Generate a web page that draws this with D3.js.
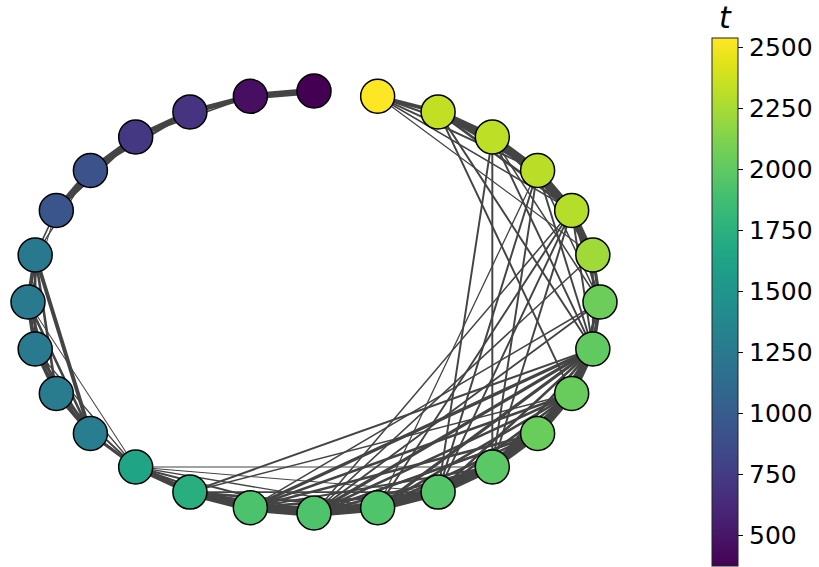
<!DOCTYPE html>
<html>
<head>
<meta charset="utf-8">
<script src="https://cdn.jsdelivr.net/npm/d3@7"></script>
<style>
html,body{margin:0;padding:0;background:#fff;}
svg{display:block;font-family:"DejaVu Sans",sans-serif;}
</style>
</head>
<body>
<svg id="chart" width="819" height="567"></svg>
<script>
// node attribute t, in circular order (counter-clockwise starting at the top)
const nodeT = [373, 450, 700, 720, 920, 940, 1250, 1260, 1260, 1270, 1280, 1640, 1740, 1920, 1930, 1940, 1960, 1980, 2040, 2030, 2010, 2050, 2230, 2300, 2310, 2320, 2340, 2537];
// edges: [source, target, weight]
const edges = [
  [0,1,5],[1,2,4],[1,3,1.2],[2,3,3.5],[2,4,2],[3,4,4],[3,5,2],[4,5,4],[4,6,1],[5,6,1.2],[5,7,0.8],
  [6,7,3],[6,8,2],[6,9,2],[6,10,3],[7,8,3],[7,9,2],[7,10,2],[8,9,3],[8,10,2],[9,10,3],
  [7,11,0.8],[8,11,1],[9,11,1.5],[10,11,2.5],
  [11,12,4],[11,13,1.5],[11,14,1.5],[11,15,1],[11,16,0.8],[11,17,0.8],
  [12,13,6],[12,14,3],[12,15,2],[12,16,1.5],
  [13,14,6],[13,15,3],[13,16,2],[13,17,1.5],
  [14,15,6],[14,16,3],[14,17,2],[14,18,1.5],
  [15,16,6],[15,17,3],[15,18,2],
  [16,17,6],[16,18,3],[16,19,2],
  [17,18,6],[17,19,3],[17,20,2],
  [18,19,6],[18,20,3],[19,20,5],[19,21,2],[20,21,3],[20,22,1.5],[21,22,2.5],
  [20,12,1.5],[20,13,2.5],[20,14,2.5],[20,15,2.5],[20,16,2],
  [19,12,1.2],[19,13,2],[19,14,2],[19,15,2],
  [18,13,2],[18,14,2],[21,13,1.2],[21,14,1.5],[22,14,1.2],
  [27,26,3],[27,25,1.5],[27,24,1.5],[27,23,1.2],[27,22,1],
  [26,25,5],[26,24,3],[26,23,2],[25,24,5],[25,23,3],[24,23,5],[24,22,2],[23,22,4],[23,21,2],
  [26,19,1.5],[26,20,1.5],[25,17,1.5],[25,16,1.5],[25,20,1.5],
  [24,15,1],[24,16,1.5],[24,17,1.5],[24,20,1.5],[23,14,1.2],[23,15,1.5],[23,16,1.5],[23,17,1.5],[23,20,1.5],
  [21,24,1.2],[21,25,1.2]
];
const cbTicks = [500, 750, 1000, 1250, 1500, 1750, 2000, 2250, 2500];
const tMin = 373, tMax = 2537;
const cbLabel = "t";

const svg = d3.select("#chart");
const n = nodeT.length;
// circular layout coordinates in [-1,1]
const layout = nodeT.map((t, i) => {
  const a = Math.PI / 2 + i * 2 * Math.PI / n;
  return {x: Math.cos(a), y: Math.sin(a), t: t};
});
const xs = d3.scaleLinear().domain([-1, 1]).range([28, 600]);
const ys = d3.scaleLinear().domain([1, -1]).range([91, 513]);
const color = d3.scaleSequential(d3.interpolateViridis).domain([tMin, tMax]);
const widthScale = d3.scaleLinear().domain([0, 1]).range([0, 1.3]);

svg.append("g").selectAll("line").data(edges).join("line")
  .attr("x1", d => xs(layout[d[0]].x)).attr("y1", d => ys(layout[d[0]].y))
  .attr("x2", d => xs(layout[d[1]].x)).attr("y2", d => ys(layout[d[1]].y))
  .attr("stroke", "#444").attr("stroke-width", d => widthScale(d[2])).attr("stroke-linecap", "round");

svg.append("g").selectAll("circle").data(layout).join("circle")
  .attr("cx", d => xs(d.x)).attr("cy", d => ys(d.y)).attr("r", 17)
  .attr("fill", d => color(d.t)).attr("stroke", "#000").attr("stroke-width", 1.5);

// colorbar
const cbX = 712, cbW = 26, cbTop = 38, cbBot = 566;
const defs = svg.append("defs");
const grad = defs.append("linearGradient").attr("id", "cbgrad")
  .attr("x1", "0").attr("y1", "1").attr("x2", "0").attr("y2", "0");
d3.range(0, 1.0001, 0.05).forEach(f => {
  grad.append("stop").attr("offset", f).attr("stop-color", d3.interpolateViridis(f));
});
svg.append("rect").attr("x", cbX).attr("y", cbTop).attr("width", cbW).attr("height", cbBot - cbTop)
  .attr("fill", "url(#cbgrad)").attr("stroke", "#222").attr("stroke-width", 1);
const cbScale = d3.scaleLinear().domain([tMin, tMax]).range([cbBot, cbTop]);
const ax = svg.append("g").attr("transform", `translate(${cbX + cbW},0)`)
  .call(d3.axisRight(cbScale).tickValues(cbTicks).tickSize(5).tickPadding(6).tickFormat(d3.format("d")));
ax.select(".domain").remove();
ax.selectAll("text").attr("font-size", 25).attr("fill", "#000").attr("font-family", "DejaVu Sans");
ax.selectAll("line").attr("stroke", "#000");
svg.append("text").attr("x", cbX + cbW / 2).attr("y", 28).attr("text-anchor", "middle")
  .attr("font-size", 30).attr("font-style", "italic").attr("font-family", "DejaVu Sans").text(cbLabel);
</script>
</body>
</html>
